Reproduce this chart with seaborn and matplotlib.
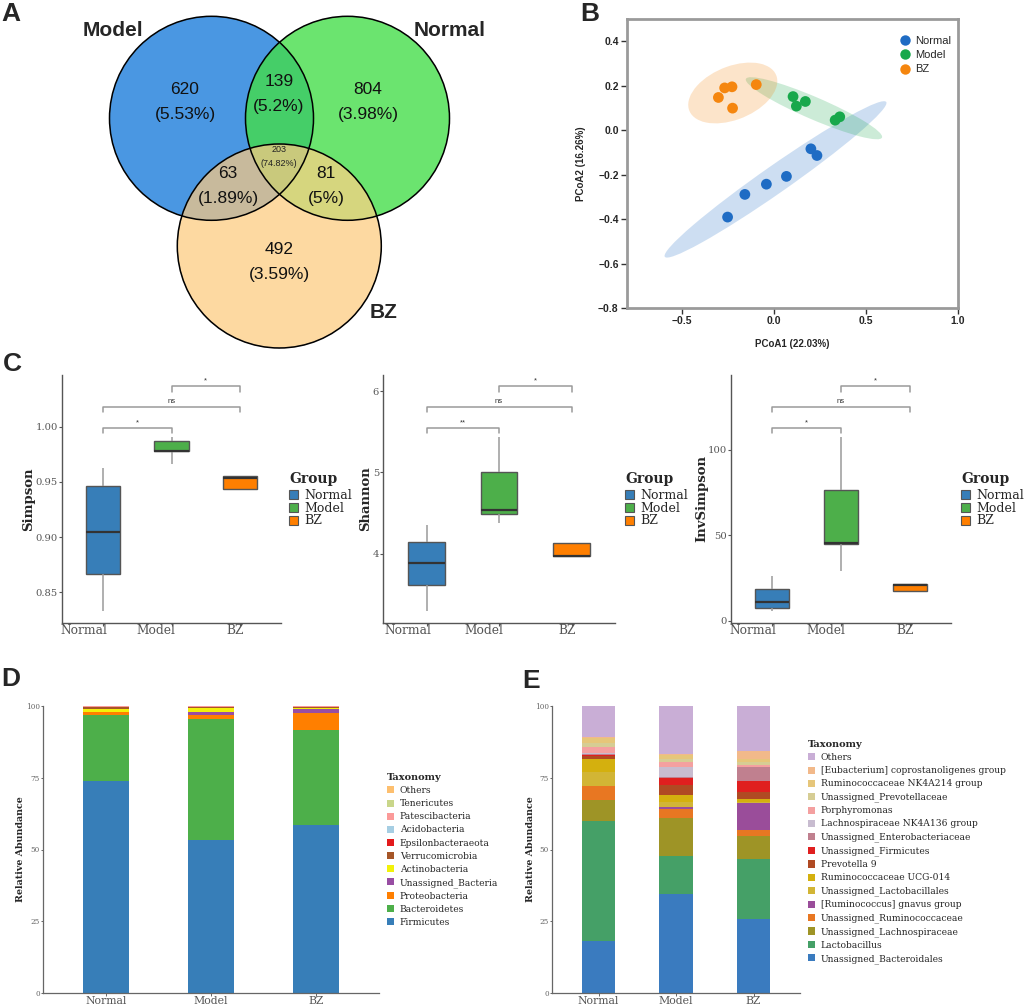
import numpy as np
import pandas as pd
import matplotlib
matplotlib.use("Agg")
import matplotlib.pyplot as plt
import seaborn as sns
from matplotlib.patches import Circle, Ellipse, Patch
from matplotlib.lines import Line2D

sns.set_theme(style="white")
plt.rcParams["font.family"] = ["Liberation Sans", "DejaVu Sans"]
SERIF = "DejaVu Serif"

# ---------------- data ----------------
groups = ["Normal", "Model", "BZ"]

# Venn (A)
venn_sets = ["Model", "Normal", "BZ"]
venn_regions = ["Model", "Normal", "BZ", "Model&Normal", "Model&BZ", "Normal&BZ", "All"]
venn_counts = [620, 804, 492, 139, 63, 81, 203]
venn_pcts = ["5.53%", "3.98%", "3.59%", "5.2%", "1.89%", "5%", "74.82%"]

# PCoA (B)
normal_pc1 = [-0.253, -0.159, -0.042, 0.067, 0.200, 0.233]
normal_pc2 = [-0.391, -0.289, -0.243, -0.208, -0.084, -0.114]
model_pc1 = [0.103, 0.121, 0.170, 0.332, 0.357]
model_pc2 = [0.151, 0.108, 0.129, 0.045, 0.060]
bz_pc1 = [-0.303, -0.269, -0.229, -0.226, -0.097]
bz_pc2 = [0.147, 0.190, 0.195, 0.099, 0.205]

# Alpha diversity (C)
simpson_normal = [0.833, 0.866, 0.905, 0.946, 0.963]
simpson_model = [0.966, 0.978, 0.9785, 0.987, 0.991]
simpson_bz = [0.944, 0.944, 0.954, 0.955, 0.955]
shannon_normal = [3.295, 3.607, 3.886, 4.140, 4.353]
shannon_model = [4.374, 4.492, 4.537, 5.000, 5.439]
shannon_bz = [3.972, 3.972, 3.975, 4.128, 4.128]
invsimpson_normal = [5.8, 7.4, 11.1, 18.5, 26.3]
invsimpson_model = [29.3, 45.1, 45.7, 76.4, 107.5]
invsimpson_bz = [17.5, 17.5, 20.8, 21.6, 21.6]
signif_simpson = ["*", "ns", "*"]
signif_shannon = ["**", "ns", "*"]
signif_invsimpson = ["*", "ns", "*"]

# Phylum (D), bottom -> top
phylum_taxa = ["Firmicutes", "Bacteroidetes", "Proteobacteria", "Unassigned_Bacteria",
               "Actinobacteria", "Verrucomicrobia", "Epsilonbacteraeota", "Acidobacteria",
               "Patescibacteria", "Tenericutes", "Others"]
phylum_normal = [73.8, 23.0, 1.0, 0.2, 0.8, 0.8, 0.05, 0.05, 0.2, 0.05, 0.05]
phylum_model = [53.3, 42.0, 1.6, 0.9, 1.6, 0.1, 0.05, 0.05, 0.3, 0.05, 0.05]
phylum_bz = [58.4, 33.4, 5.9, 1.4, 0.3, 0.2, 0.05, 0.05, 0.2, 0.05, 0.05]

# Genus (E), bottom -> top
genus_taxa = ["Unassigned_Bacteroidales", "Lactobacillus", "Unassigned_Lachnospiraceae",
              "Unassigned_Ruminococcaceae", "[Ruminococcus] gnavus group",
              "Unassigned_Lactobacillales", "Ruminococcaceae UCG-014", "Prevotella 9",
              "Unassigned_Firmicutes", "Unassigned_Enterobacteriaceae",
              "Lachnospiraceae NK4A136 group", "Porphyromonas", "Unassigned_Prevotellaceae",
              "Ruminococcaceae NK4A214 group", "[Eubacterium] coprostanoligenes group", "Others"]
genus_normal = [18.1, 42.0, 7.1, 4.9, 0.1, 4.8, 4.6, 1.0, 0.4, 0.2, 0.5, 1.9, 1.5, 1.8, 0.3, 10.8]
genus_model = [34.6, 13.2, 13.1, 3.3, 0.5, 2.0, 2.3, 3.5, 2.5, 0.4, 3.5, 1.6, 1.1, 1.4, 0.3, 16.7]
genus_bz = [25.9, 20.7, 8.0, 2.1, 9.5, 0.3, 1.1, 2.3, 3.8, 5.0, 0.2, 0.7, 1.0, 0.8, 2.8, 15.8]

# ---------------- styles ----------------
venn_colors = {"Model": "#4a97e3", "Normal": "#6be56f", "BZ": "#fdd9a2",
               "Model&Normal": "#46cf68", "Model&BZ": "#c8bb9c",
               "Normal&BZ": "#d6d67e", "All": "#c9c97c"}
pcoa_colors = {"Normal": "#1f6cc4", "Model": "#17a84b", "BZ": "#f5860f"}
box_colors = {"Normal": "#377eb8", "Model": "#4daf4a", "BZ": "#ff7f00"}
phylum_colors = ["#377eb8", "#4daf4a", "#ff7f00", "#984ea3", "#f2f20a", "#a65628",
                 "#e31a1c", "#a6cee3", "#fb9a99", "#c9d68a", "#fdbf6f"]
genus_colors = ["#3a7bbf", "#45a067", "#9e9426", "#e87722", "#9a4d9a", "#d2b535",
                "#d4b00e", "#b04a23", "#e01f1f", "#c0808f", "#c8bcd0", "#f4a0a0",
                "#d6cd94", "#e6c67a", "#f2b98a", "#c9aed6"]

W, H = 1024, 1008
fig = plt.figure(figsize=(W / 100, H / 100), dpi=100)


def axpx(x0, y0, x1, y1):
    return fig.add_axes([x0 / W, 1 - y1 / H, (x1 - x0) / W, (y1 - y0) / H])


# overlay axes in pixel coordinates (Venn + panel letters)
ax0 = fig.add_axes([0, 0, 1, 1])
ax0.set_xlim(0, W)
ax0.set_ylim(H, 0)
ax0.axis("off")

# ---------------- A: Venn ----------------
r = 102
centers = {"Model": (211.5, 118.3), "Normal": (347.5, 118.3), "BZ": (279.3, 246.0)}
gx0, gx1, gy0, gy1 = 100, 460, 10, 355
res = 3
xs = np.linspace(gx0, gx1, (gx1 - gx0) * res)
ys = np.linspace(gy0, gy1, (gy1 - gy0) * res)
XX, YY = np.meshgrid(xs, ys)
inside = {k: (XX - c[0]) ** 2 + (YY - c[1]) ** 2 <= r ** 2 for k, c in centers.items()}
img = np.zeros(XX.shape + (4,))
masks = {
    "Model": inside["Model"] & ~inside["Normal"] & ~inside["BZ"],
    "Normal": inside["Normal"] & ~inside["Model"] & ~inside["BZ"],
    "BZ": inside["BZ"] & ~inside["Model"] & ~inside["Normal"],
    "Model&Normal": inside["Model"] & inside["Normal"] & ~inside["BZ"],
    "Model&BZ": inside["Model"] & inside["BZ"] & ~inside["Normal"],
    "Normal&BZ": inside["Normal"] & inside["BZ"] & ~inside["Model"],
    "All": inside["Model"] & inside["Normal"] & inside["BZ"],
}
for k, m in masks.items():
    img[m] = matplotlib.colors.to_rgba(venn_colors[k])
ax0.imshow(img, extent=(gx0, gx1, gy1, gy0), origin="upper", interpolation="bilinear", zorder=1)
for k, c in centers.items():
    ax0.add_patch(Circle(c, r, fill=False, ec="black", lw=1.1, zorder=2))

label_pos = {"Model": (185, 90), "Normal": (368, 90), "BZ": (279, 249),
             "Model&Normal": (279, 82), "Model&BZ": (228, 173), "Normal&BZ": (326, 173),
             "All": (279, 149)}
for name, cnt, pct in zip(venn_regions, venn_counts, venn_pcts):
    x, y = label_pos[name]
    if name == "All":
        ax0.text(x, y, str(cnt), ha="center", va="center", fontsize=6.5, color="#222", zorder=3)
        ax0.text(x, y + 14, f"({pct})", ha="center", va="center", fontsize=6.5, color="#222", zorder=3)
    else:
        ax0.text(x, y, str(cnt), ha="center", va="center", fontsize=12.5, color="#111", zorder=3)
        ax0.text(x, y + 25, f"({pct})", ha="center", va="center", fontsize=12.5, color="#111", zorder=3)
set_label_pos = {"Model": (113, 31), "Normal": (450, 31), "BZ": (384, 312)}
for s in venn_sets:
    ax0.text(*set_label_pos[s], s, ha="center", va="center", fontsize=15, fontweight="bold", zorder=3)

for letter, (x, y) in {"A": (11, 14), "B": (590, 14), "C": (12, 364), "D": (11, 679), "E": (531, 681)}.items():
    ax0.text(x, y, letter, ha="center", va="center", fontsize=19, fontweight="bold", zorder=3)

# ---------------- B: PCoA ----------------
axB = axpx(627, 19, 958, 308)
pcoa_df = pd.DataFrame({
    "PC1": normal_pc1 + model_pc1 + bz_pc1,
    "PC2": normal_pc2 + model_pc2 + bz_pc2,
    "Group": ["Normal"] * len(normal_pc1) + ["Model"] * len(model_pc1) + ["BZ"] * len(bz_pc1),
})
for g in groups:
    sub = pcoa_df[pcoa_df["Group"] == g]
    pts = sub[["PC1", "PC2"]].to_numpy()
    mu = pts.mean(axis=0)
    cov = np.cov(pts, rowvar=False)
    vals, vecs = np.linalg.eigh(cov)
    order = vals.argsort()[::-1]
    vals, vecs = vals[order], vecs[:, order]
    k = 3.1
    ang = np.degrees(np.arctan2(vecs[1, 0], vecs[0, 0]))
    axB.add_patch(Ellipse(mu, 2 * k * np.sqrt(vals[0]), 2 * k * np.sqrt(vals[1]), angle=ang,
                          fc=pcoa_colors[g], ec="none", alpha=0.22, zorder=1))
sns.scatterplot(data=pcoa_df, x="PC1", y="PC2", hue="Group", hue_order=groups,
                palette=pcoa_colors, s=60, edgecolor="none", legend=False, ax=axB, zorder=3)
axB.set_xlim(-0.8, 1.0)
axB.set_ylim(-0.8, 0.5)
axB.set_xticks([-0.5, 0.0, 0.5, 1.0])
axB.set_xticklabels(["\u22120.5", "0.0", "0.5", "1.0"], fontweight="bold", fontsize=7.5)
axB.set_yticks([-0.8, -0.6, -0.4, -0.2, 0.0, 0.2, 0.4])
axB.set_yticklabels(["\u22120.8", "\u22120.6", "\u22120.4", "\u22120.2", "0.0", "0.2", "0.4"],
                    fontweight="bold", fontsize=7.5)
axB.tick_params(direction="out", length=4, width=1, color="#333", left=True, bottom=True, pad=2)
for sp in axB.spines.values():
    sp.set_color("#9a9a9a")
    sp.set_linewidth(2)
axB.set_xlabel("PCoA1 (22.03%)", fontweight="bold", fontsize=7, labelpad=9)
axB.set_ylabel("PCoA2 (16.26%)", fontweight="bold", fontsize=7, labelpad=9)
handlesB = [Line2D([], [], marker="o", ls="", markersize=7.5, markerfacecolor=pcoa_colors[g],
                   markeredgecolor="none", label=g) for g in groups]
axB.legend(handles=handlesB, loc="upper left", bbox_to_anchor=(899 / W, 1 - 36 / H),
           bbox_transform=fig.transFigure, frameon=False, fontsize=8, labelspacing=0.38,
           handletextpad=0.45, handlelength=1.0, borderpad=0, borderaxespad=0)


# ---------------- C: alpha diversity ----------------
def alpha_panel(rect, vals_n, vals_m, vals_b, ylabel, yticks, yticklabels, signif, legx, ylab_x):
    ax = axpx(*rect)
    df = pd.DataFrame({"Group": ["Normal"] * len(vals_n) + ["Model"] * len(vals_m) + ["BZ"] * len(vals_b),
                       "value": vals_n + vals_m + vals_b})
    sns.boxplot(data=df, x="Group", y="value", hue="Group", order=groups, hue_order=groups,
                palette=box_colors, width=0.5, linewidth=1, linecolor="#555555", showcaps=False,
                fliersize=0, saturation=1, legend=False, ax=ax,
                whiskerprops={"color": "#9a9a9a", "linewidth": 1.1},
                medianprops={"color": "#333333", "linewidth": 1.6})
    allv = np.array(vals_n + vals_m + vals_b)
    lo, hi = allv.min(), allv.max()
    rng = hi - lo
    ax.set_ylim(lo - 0.07 * rng, hi + 0.355 * rng)
    ax.set_xlim(-0.6, 2.6)
    pairs = [(0, 1), (0, 2), (1, 2)]
    for i, ((a, b), lab) in enumerate(zip(pairs, signif)):
        y = hi + 0.05 * rng + i * 0.12 * rng
        tip = 0.03 * rng
        ax.plot([a, a, b, b], [y - tip, y, y, y - tip], color="#9a9a9a", lw=1.1, clip_on=False)
        ax.text((a + b) / 2, y + 0.012 * rng, lab, ha="center", va="bottom", fontsize=5.5, color="#333")
    ax.set_yticks(yticks)
    ax.set_yticklabels(yticklabels, fontsize=7.2, color="#555555", fontfamily=SERIF)
    # tick marks at the boxes, labels right-aligned just past them
    ax.set_xticks([0, 1, 2])
    ax.set_xticklabels([])
    ax.set_xticks([0.06, 1.06, 2.06], minor=True)
    ax.set_xticklabels(groups, minor=True, fontsize=8.8, color="#555555", fontfamily=SERIF, ha="right")
    ax.tick_params(axis="x", which="minor", length=0, pad=1)
    ax.tick_params(axis="both", which="major", direction="out", length=2, width=0.8, color="#555555",
                   left=True, bottom=True, pad=0.8)
    for sp in ["top", "right"]:
        ax.spines[sp].set_visible(False)
    for sp in ["left", "bottom"]:
        ax.spines[sp].set_color("#555555")
        ax.spines[sp].set_linewidth(1)
    ax.set_xlabel("")
    ax.set_ylabel(ylabel, fontsize=9.5, fontweight="bold", fontfamily=SERIF)
    ax.yaxis.set_label_coords(ylab_x, 0.5)
    fig.text(legx / W, 1 - 479 / H, "Group", fontsize=10, fontweight="bold", fontfamily=SERIF,
             ha="left", va="center")
    handles = [Patch(facecolor=box_colors[g], edgecolor="#555555", lw=0.8, label=g) for g in groups]
    ax.legend(handles=handles, loc="upper left",
              bbox_to_anchor=(legx / W, 1 - 489 / H), bbox_transform=fig.transFigure,
              frameon=False, prop={"family": SERIF, "size": 9}, labelspacing=-0.02,
              handlelength=0.75, handleheight=0.7, handletextpad=0.45,
              borderpad=0, borderaxespad=0)
    return ax


alpha_panel((62, 375, 281, 623), simpson_normal, simpson_model, simpson_bz, "Simpson",
            [0.85, 0.90, 0.95, 1.00], ["0.85", "0.90", "0.95", "1.00"], signif_simpson, 289, -0.125)
alpha_panel((383, 375, 615, 623), shannon_normal, shannon_model, shannon_bz, "Shannon",
            [4, 5, 6], ["4", "5", "6"], signif_shannon, 625, -0.046)
alpha_panel((731, 375, 951, 623), invsimpson_normal, invsimpson_model, invsimpson_bz, "InvSimpson",
            [0, 50, 100], ["0", "50", "100"], signif_invsimpson, 961, -0.105)


# ---------------- D / E: stacked composition ----------------
def stack_panel(rect, taxa, v_n, v_m, v_b, colors, legx, legy, ylab_x):
    ax = axpx(*rect)
    df = pd.DataFrame({"Normal": v_n, "Model": v_m, "BZ": v_b}, index=taxa)
    cum = df.cumsum()
    for i in reversed(range(len(taxa))):
        sns.barplot(x=groups, y=cum.iloc[i][groups].values, order=groups, color=colors[i],
                    width=0.43, saturation=1, linewidth=0, edgecolor="none", errorbar=None, ax=ax)
    ax.set_xlim(-0.6, 2.6)
    ax.set_ylim(0, 100)
    ax.set_yticks([0, 25, 50, 75, 100])
    ax.set_yticklabels(["0", "25", "50", "75", "100"], fontsize=5.2, color="#666666", fontfamily=SERIF)
    ax.set_xticks([0, 1, 2])
    ax.set_xticklabels(groups, fontsize=7.8, color="#555555", fontfamily=SERIF)
    ax.tick_params(axis="both", direction="out", length=1.8, width=0.7, color="#666666",
                   left=True, bottom=True, pad=0.3)
    for sp in ["top", "right"]:
        ax.spines[sp].set_visible(False)
    for sp in ["left", "bottom"]:
        ax.spines[sp].set_color("#666666")
        ax.spines[sp].set_linewidth(0.9)
    ax.set_xlabel("")
    ax.set_ylabel("Relative Abundance", fontsize=6.8, fontweight="bold", fontfamily=SERIF)
    ax.yaxis.set_label_coords(ylab_x, 0.5)
    handles = [Patch(facecolor=colors[i], edgecolor="none", label=taxa[i]) for i in reversed(range(len(taxa)))]
    leg = ax.legend(handles=handles, title="Taxonomy", loc="upper left",
                    bbox_to_anchor=(legx / W, 1 - legy / H), bbox_transform=fig.transFigure,
                    frameon=False, prop={"family": SERIF, "size": 6.6}, labelspacing=0.45,
                    handlelength=0.8, handleheight=0.8, handletextpad=0.6,
                    borderpad=0, borderaxespad=0, alignment="left")
    leg.get_title().set_fontfamily(SERIF)
    leg.get_title().set_fontweight("bold")
    leg.get_title().set_fontsize(7)
    return ax


stack_panel((43, 706, 379, 993), phylum_taxa, phylum_normal, phylum_model, phylum_bz,
            phylum_colors, 387, 773, -0.054)
stack_panel((552, 706, 800, 993), genus_taxa, genus_normal, genus_model, genus_bz,
            genus_colors, 808, 740, -0.069)

fig.savefig("out.png", dpi=100)
